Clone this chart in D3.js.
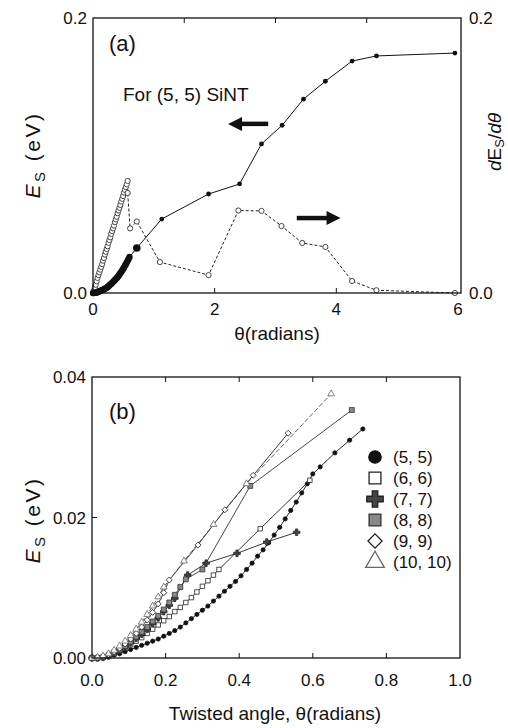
<!doctype html>
<html lang="en">
<head>
    <meta charset="UTF-8">
    <title>SiNT twist energy</title>
    <script type="text/javascript" src="https://cdn.jsdelivr.net/npm/d3@7"></script>
    <style type="text/css">
        body {
            margin: 0;
            background: #fff;
        }

        text {
            font-family: "Liberation Sans", Arial, sans-serif;
            fill: #111;
        }

        .frame {
            fill: none;
            stroke: #111;
            stroke-width: 1.3;
        }
    </style>
</head>
<body>
<script type="text/javascript">

    // ---- (5, 5) tube, dense part (shared by both panels) ----
    var es55Theta = [0, 0.015, 0.03, 0.045, 0.06, 0.075, 0.09, 0.105, 0.12, 0.135, 0.15, 0.165, 0.18,
        0.195, 0.21, 0.225, 0.24, 0.255, 0.27, 0.285, 0.30, 0.315, 0.33, 0.345, 0.36, 0.375, 0.39,
        0.405, 0.42, 0.435, 0.45, 0.465, 0.48, 0.495, 0.51, 0.525, 0.54, 0.555, 0.57, 0.585, 0.60];
    var es55 = [0, 0, 0.0001, 0.0002, 0.0004, 0.0006, 0.0009, 0.0012, 0.0015, 0.0018, 0.0021, 0.0024,
        0.0027, 0.0031, 0.0035, 0.0039, 0.0044, 0.0050, 0.0056, 0.0062, 0.0068, 0.0074, 0.0081, 0.0088,
        0.0095, 0.0102, 0.0109, 0.0117, 0.0126, 0.0135, 0.0145, 0.0154, 0.0164, 0.0175, 0.0186, 0.0198,
        0.0210, 0.0222, 0.0235, 0.0248, 0.0262];

    // ---- panel (a) : coarse Es and dEs/dtheta ----
    var aEsTheta = [0.72, 1.13, 1.90, 2.41, 2.77, 3.11, 3.46, 3.82, 4.26, 4.66, 5.95];
    var aEs = [0.0327, 0.0538, 0.0720, 0.0793, 0.1084, 0.1220, 0.1410, 0.1540, 0.1687, 0.1724, 0.1745];

    var aDTheta = [0, 0.015, 0.03, 0.045, 0.06, 0.075, 0.09, 0.105, 0.12, 0.135, 0.15, 0.165, 0.18,
        0.195, 0.21, 0.225, 0.24, 0.255, 0.27, 0.285, 0.30, 0.315, 0.33, 0.345, 0.36, 0.375, 0.39,
        0.405, 0.42, 0.435, 0.45, 0.465, 0.48, 0.495, 0.51, 0.525, 0.54, 0.555, 0.57,
        0.57, 0.61, 0.72, 1.10, 1.90, 2.39, 2.77, 3.10, 3.44, 3.82, 4.26, 4.66, 5.95];
    var aDEs = [0, 0.002, 0.004, 0.006, 0.0085, 0.011, 0.013, 0.015, 0.017, 0.019, 0.021, 0.0235,
        0.0255, 0.028, 0.030, 0.032, 0.034, 0.0365, 0.0385, 0.0405, 0.043, 0.045, 0.047, 0.049, 0.0515,
        0.0535, 0.0555, 0.058, 0.060, 0.062, 0.064, 0.0665, 0.0685, 0.0705, 0.073, 0.075, 0.077, 0.079,
        0.0815, 0.0727, 0.047, 0.052, 0.0225, 0.013, 0.060, 0.0597, 0.0487, 0.0364, 0.0335, 0.0087,
        0.002, 0];

    var aXTicks = [0, 2, 4, 6];
    var aXTopTicks = [1.5, 3, 4.5];
    var aYTicks = [0, 0.2];

    // ---- panel (b) : several (n, n) tubes ----
    var bNames = ["(5, 5)", "(6, 6)", "(7, 7)", "(8, 8)", "(9, 9)", "(10, 10)"];

    var b55TailTheta = [0.62, 0.66, 0.70, 0.736];
    var b55TailEs = [0.0272, 0.0292, 0.0310, 0.0326];

    var b66Theta = [0, 0.015, 0.03, 0.045, 0.06, 0.075, 0.09, 0.105, 0.12, 0.135, 0.15, 0.165, 0.18,
        0.195, 0.21, 0.225, 0.24, 0.255, 0.27, 0.285, 0.30, 0.315, 0.33, 0.345, 0.457, 0.592];
    var b66Es = [0, 0, 0.0001, 0.0003, 0.0006, 0.0010, 0.0014, 0.0019, 0.0024, 0.0029, 0.0035, 0.0041,
        0.0047, 0.0053, 0.0059, 0.0066, 0.0072, 0.0079, 0.0086, 0.0094, 0.0102, 0.0110, 0.0118, 0.0126,
        0.0184, 0.0253];

    var b77Theta = [0, 0.015, 0.03, 0.045, 0.06, 0.075, 0.09, 0.105, 0.12, 0.135, 0.15, 0.165, 0.18,
        0.195, 0.21, 0.225, 0.26, 0.31, 0.394, 0.475, 0.556];
    var b77Es = [0, 0, 0.0001, 0.0003, 0.0007, 0.0011, 0.0016, 0.0022, 0.0028, 0.0034, 0.0041, 0.0049,
        0.0057, 0.0066, 0.0075, 0.0085, 0.0118, 0.0135, 0.0149, 0.0165, 0.0179];

    var b88Theta = [0, 0.015, 0.03, 0.045, 0.06, 0.075, 0.09, 0.105, 0.12, 0.135, 0.15, 0.165, 0.18,
        0.195, 0.21, 0.225, 0.24, 0.255, 0.30, 0.43, 0.706];
    var b88Es = [0, 0, 0.0001, 0.0004, 0.0008, 0.0012, 0.0017, 0.0023, 0.0030, 0.0037, 0.0044, 0.0052,
        0.0060, 0.0069, 0.0079, 0.0090, 0.0101, 0.0112, 0.0126, 0.0245, 0.0353];

    var b99Theta = [0, 0.015, 0.03, 0.045, 0.06, 0.075, 0.09, 0.105, 0.12, 0.135, 0.15, 0.165, 0.18,
        0.195, 0.21, 0.288, 0.361, 0.438, 0.533];
    var b99Es = [0, 0, 0.0002, 0.0005, 0.0009, 0.0014, 0.0020, 0.0027, 0.0035, 0.0044, 0.0054, 0.0065,
        0.0077, 0.0093, 0.0111, 0.0161, 0.0211, 0.0260, 0.0320];

    var b1010Theta = [0, 0.015, 0.03, 0.045, 0.06, 0.075, 0.09, 0.105, 0.12, 0.135, 0.15, 0.165, 0.18,
        0.195, 0.25, 0.33, 0.42, 0.65];
    var b1010Es = [0, 0.0001, 0.0003, 0.0006, 0.0011, 0.0017, 0.0024, 0.0032, 0.0041, 0.0051, 0.0062,
        0.0074, 0.0087, 0.0101, 0.0138, 0.0190, 0.0248, 0.0376];

    var bXTicks = [0, 0.2, 0.4, 0.6, 0.8, 1.0];
    var bYTicks = [0, 0.02, 0.04];

    function zip(xs, ys) {
        return xs.map(function (x, i) {
            return [x, ys[i]];
        });
    }

    var w = 508;
    var h = 728;

    var svg = d3.select("body")
        .append("svg")
        .attr("width", w)
        .attr("height", h);

    // ===================== panel (a) =====================
    var ax = d3.scaleLinear().domain([0, 6.05]).range([93, 461]);
    var ay = d3.scaleLinear().domain([0, 0.2]).range([293, 18]);

    var pa = svg.append("g");

    // ticks inside the frame
    pa.selectAll("line.xt")
        .data(aXTicks.slice(1, 3))
        .enter().append("line")
        .attr("x1", function (d) { return ax(d); })
        .attr("x2", function (d) { return ax(d); })
        .attr("y1", ay(0)).attr("y2", ay(0) - 5)
        .attr("stroke", "#111");
    pa.selectAll("line.xtt")
        .data(aXTopTicks)
        .enter().append("line")
        .attr("x1", function (d) { return ax(d); })
        .attr("x2", function (d) { return ax(d); })
        .attr("y1", ay(0.2)).attr("y2", ay(0.2) + 5)
        .attr("stroke", "#111");

    var aLine = d3.line()
        .x(function (d) { return ax(d[0]); })
        .y(function (d) { return ay(d[1]); });

    // dEs/dtheta, dashed line with open circles
    var dData = zip(aDTheta, aDEs);
    pa.append("path")
        .attr("d", aLine(dData))
        .attr("fill", "none")
        .attr("stroke", "#222")
        .attr("stroke-width", 1)
        .attr("stroke-dasharray", "3,2");
    pa.selectAll("circle.d")
        .data(dData)
        .enter().append("circle")
        .attr("cx", function (d) { return ax(d[0]); })
        .attr("cy", function (d) { return ay(d[1]); })
        .attr("r", 2.6)
        .attr("fill", "#fff")
        .attr("stroke", "#333")
        .attr("stroke-width", 0.9);

    // Es, solid line with filled dots
    var eData = zip(es55Theta.concat(aEsTheta), es55.concat(aEs));
    pa.append("path")
        .attr("d", aLine(eData))
        .attr("fill", "none")
        .attr("stroke", "#111")
        .attr("stroke-width", 1);
    pa.selectAll("circle.e")
        .data(eData)
        .enter().append("circle")
        .attr("cx", function (d) { return ax(d[0]); })
        .attr("cy", function (d) { return ay(d[1]); })
        .attr("r", function (d) {
            if (d[0] < 0.65) return 3.2;
            if (d[0] < 0.8) return 3.8;
            return 2.4;
        })
        .attr("fill", "#111");

    pa.append("rect")
        .attr("class", "frame")
        .attr("x", ax(0)).attr("y", ay(0.2))
        .attr("width", ax(6.05) - ax(0))
        .attr("height", ay(0) - ay(0.2));

    // tick labels
    pa.selectAll("text.xl")
        .data(aXTicks)
        .enter().append("text")
        .attr("x", function (d) { return ax(d); })
        .attr("y", ay(0) + 22)
        .attr("text-anchor", "middle")
        .attr("font-size", "17px")
        .text(function (d) { return d; });
    pa.selectAll("text.yl")
        .data(aYTicks)
        .enter().append("text")
        .attr("x", ax(0) - 6)
        .attr("y", function (d) { return ay(d) + 6; })
        .attr("text-anchor", "end")
        .attr("font-size", "17px")
        .text(function (d) { return d.toFixed(1); });
    pa.selectAll("text.yr")
        .data(aYTicks)
        .enter().append("text")
        .attr("x", ax(6.05) + 8)
        .attr("y", function (d) { return ay(d) + 6; })
        .attr("font-size", "17px")
        .text(function (d) { return d.toFixed(1); });

    // titles
    pa.append("text")
        .attr("x", 277).attr("y", 340)
        .attr("text-anchor", "middle")
        .attr("font-size", "19px")
        .text("\u03b8(radians)");

    var ayl = pa.append("text")
        .attr("transform", "translate(40,155) rotate(-90)")
        .attr("text-anchor", "middle")
        .attr("font-size", "21px")
        .attr("letter-spacing", "2.5px");
    ayl.append("tspan").attr("font-style", "italic").text("E");
    ayl.append("tspan").attr("font-size", "15px").attr("dy", 5).text("S");
    ayl.append("tspan").attr("dy", -5).text(" (eV)");

    var ayr = pa.append("text")
        .attr("transform", "translate(501,142) rotate(-90)")
        .attr("text-anchor", "middle")
        .attr("font-size", "19px");
    ayr.append("tspan").attr("font-style", "italic").text("d");
    ayr.append("tspan").text("E");
    ayr.append("tspan").attr("font-size", "13px").attr("dy", 3).text("S");
    ayr.append("tspan").attr("dy", -3).text("/");
    ayr.append("tspan").attr("font-style", "italic").text("d\u03b8");

    pa.append("text")
        .attr("x", 109).attr("y", 51)
        .attr("font-size", "22px")
        .text("(a)");
    pa.append("text")
        .attr("x", 123).attr("y", 101)
        .attr("font-size", "19px")
        .text("For (5, 5) SiNT");

    // arrows pointing to each axis
    function arrow(g, x0, x1, yv) {
        var xa = ax(x0), xb = ax(x1), yy = ay(yv);
        var dir = xb > xa ? 1 : -1;
        var head = 14;
        g.append("line")
            .attr("x1", xa).attr("x2", xb - dir * head + dir)
            .attr("y1", yy).attr("y2", yy)
            .attr("stroke", "#111")
            .attr("stroke-width", 4.5);
        g.append("path")
            .attr("d", "M" + xb + "," + yy + "L" + (xb - dir * head) + "," + (yy - 7) +
                "L" + (xb - dir * head) + "," + (yy + 7) + "Z")
            .attr("fill", "#111");
    }

    arrow(pa, 2.88, 2.22, 0.123);
    arrow(pa, 3.35, 4.07, 0.0545);

    // ===================== panel (b) =====================
    var bx = d3.scaleLinear().domain([0, 1]).range([92, 460]);
    var by = d3.scaleLinear().domain([0, 0.04]).range([658, 377]);

    var pb = svg.append("g");

    pb.selectAll("line.bxt")
        .data(bXTicks.slice(1, 5))
        .enter().append("line")
        .attr("x1", function (d) { return bx(d); })
        .attr("x2", function (d) { return bx(d); })
        .attr("y1", by(0)).attr("y2", by(0) - 5)
        .attr("stroke", "#111");
    pb.selectAll("line.bxtt")
        .data(bXTicks.slice(1, 5))
        .enter().append("line")
        .attr("x1", function (d) { return bx(d); })
        .attr("x2", function (d) { return bx(d); })
        .attr("y1", by(0.04)).attr("y2", by(0.04) + 5)
        .attr("stroke", "#111");
    pb.append("line")
        .attr("x1", bx(0)).attr("x2", bx(0) + 5)
        .attr("y1", by(0.02)).attr("y2", by(0.02))
        .attr("stroke", "#111");

    var series = [
        {name: bNames[0], pts: zip(es55Theta.concat(b55TailTheta), es55.concat(b55TailEs)), sym: d3.symbolCircle, size: 14, fill: "#111", stroke: "#111", rot: 0, lc: "#111", dash: null},
        {name: bNames[1], pts: zip(b66Theta, b66Es), sym: d3.symbolSquare, size: 20, fill: "#fff", stroke: "#222", rot: 0, lc: "#222", dash: null},
        {name: bNames[2], pts: zip(b77Theta, b77Es), sym: d3.symbolCross, size: 24, fill: "#444", stroke: "#222", rot: 0, lc: "#222", dash: null},
        {name: bNames[3], pts: zip(b88Theta, b88Es), sym: d3.symbolSquare, size: 24, fill: "#888", stroke: "#333", rot: 0, lc: "#333", dash: null},
        {name: bNames[4], pts: zip(b99Theta, b99Es), sym: d3.symbolSquare, size: 18, fill: "#fff", stroke: "#222", rot: 45, lc: "#222", dash: null},
        {name: bNames[5], pts: zip(b1010Theta, b1010Es), sym: d3.symbolTriangle, size: 20, fill: "#fff", stroke: "#666", rot: 0, lc: "#555", dash: "5,2"}
    ];

    var bLine = d3.line()
        .x(function (d) { return bx(d[0]); })
        .y(function (d) { return by(d[1]); });

    series.forEach(function (s) {
        pb.append("path")
            .attr("d", bLine(s.pts))
            .attr("fill", "none")
            .attr("stroke", s.lc)
            .attr("stroke-width", 0.9)
            .attr("stroke-dasharray", s.dash);
    });
    series.forEach(function (s) {
        pb.selectAll(null)
            .data(s.pts)
            .enter().append("path")
            .attr("d", d3.symbol().type(s.sym).size(s.size))
            .attr("transform", function (d) {
                return "translate(" + bx(d[0]) + "," + by(d[1]) + ") rotate(" + s.rot + ")";
            })
            .attr("fill", s.fill)
            .attr("stroke", s.stroke)
            .attr("stroke-width", 0.8);
    });

    pb.append("rect")
        .attr("class", "frame")
        .attr("x", bx(0)).attr("y", by(0.04))
        .attr("width", bx(1) - bx(0))
        .attr("height", by(0) - by(0.04));

    pb.selectAll("text.bxl")
        .data(bXTicks)
        .enter().append("text")
        .attr("x", function (d) { return bx(d); })
        .attr("y", by(0) + 28)
        .attr("text-anchor", "middle")
        .attr("font-size", "17px")
        .text(function (d) { return d.toFixed(1); });
    pb.selectAll("text.byl")
        .data(bYTicks)
        .enter().append("text")
        .attr("x", bx(0) - 6)
        .attr("y", function (d) { return by(d) + 6; })
        .attr("text-anchor", "end")
        .attr("font-size", "17px")
        .text(function (d) { return d.toFixed(2); });

    pb.append("text")
        .attr("x", 275).attr("y", 720)
        .attr("text-anchor", "middle")
        .attr("font-size", "19px")
        .text("Twisted angle, \u03b8(radians)");

    var byl = pb.append("text")
        .attr("transform", "translate(40,520) rotate(-90)")
        .attr("text-anchor", "middle")
        .attr("font-size", "21px")
        .attr("letter-spacing", "2.5px");
    byl.append("tspan").attr("font-style", "italic").text("E");
    byl.append("tspan").attr("font-size", "15px").attr("dy", 5).text("S");
    byl.append("tspan").attr("dy", -5).text(" (eV)");

    pb.append("text")
        .attr("x", 109).attr("y", 419)
        .attr("font-size", "22px")
        .text("(b)");

    // legend
    var legSizes = [120, 140, 150, 140, 100, 150];
    var leg = pb.selectAll("g.leg")
        .data(series)
        .enter().append("g")
        .attr("transform", function (d, i) {
            return "translate(375," + (457 + i * 21) + ")";
        });
    leg.append("path")
        .attr("d", function (d, i) {
            return d3.symbol().type(d.sym).size(legSizes[i])();
        })
        .attr("transform", function (d) { return "rotate(" + d.rot + ")"; })
        .attr("fill", function (d) { return d.fill; })
        .attr("stroke", function (d) { return d.stroke; })
        .attr("stroke-width", 1.3);
    leg.append("text")
        .attr("x", 18)
        .attr("y", 6)
        .attr("font-size", "17px")
        .text(function (d) { return d.name; });

</script>
</body>
</html>
